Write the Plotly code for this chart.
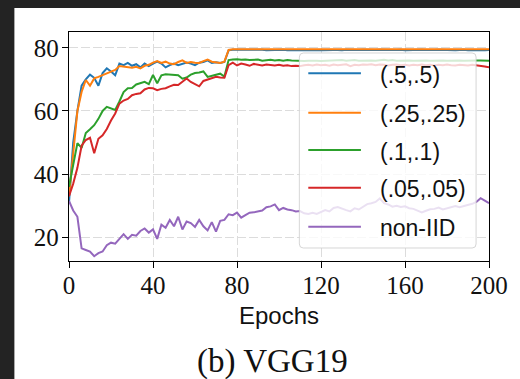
import plotly.graph_objects as go

# Test accuracy (%) of VGG19 recorded every 2 epochs
epochs = list(range(0, 201, 2))

acc_05_05 = [
    31, 50, 60, 68, 70, 71.5, 70.5, 68, 72, 73.5,
    72.5, 71.3, 75, 74.5, 75.2, 74.3, 74.8, 73.8, 75, 74.2,
    75, 75.6, 75, 73.8, 74.5, 75, 74.5, 75, 75.3, 75,
    74.5, 75.3, 75.5, 76, 75.2, 75.4, 75.2, 75.5, 79.2, 79.4,
    79.4, 79.4, 79.3, 79.5, 79.4, 79.3, 79.4, 79.2, 79.3, 79.4,
    79.3, 79.4, 79.2, 79.3, 79.4, 79.3, 79.2, 79.3, 79.4, 79.3,
    79.2, 79.3, 79.4, 79.3, 79.3, 79.2, 79.4, 79.3, 79.2, 79.3,
    79.4, 79.3, 79.2, 79.3, 79.4, 79.3, 79.2, 79.3, 79.3, 79.4,
    79.2, 79.3, 79.2, 79.3, 79.4, 79.3, 79.2, 79.3, 79.4, 79.3,
    79.2, 79.3, 79.2, 79.3, 79.4, 79.2, 79.3, 79.2, 79.3, 79.2,
    79.3,
]

acc_025_025 = [
    33, 46, 60, 66, 69.8, 68, 70.3, 70.8, 71.3, 71.8,
    72.5, 73, 74.2, 74, 73.8, 73.7, 74, 73.5, 74.3, 74.6,
    75.3, 75.8, 75.2, 75.6, 75, 74.8, 75.5, 76, 75.2, 75.5,
    75.3, 75.2, 75.8, 76.3, 75.6, 75.4, 75.2, 75.6, 79.3, 79.5,
    79.5, 79.6, 79.6, 79.5, 79.6, 79.7, 79.6, 79.5, 79.6, 79.6,
    79.5, 79.6, 79.6, 79.5, 79.6, 79.6, 79.5, 79.6, 79.5, 79.6,
    79.6, 79.5, 79.6, 79.6, 79.5, 79.6, 79.6, 79.5, 79.6, 79.6,
    79.5, 79.6, 79.6, 79.5, 79.6, 79.5, 79.6, 79.6, 79.5, 79.6,
    79.6, 79.5, 79.6, 79.6, 79.5, 79.6, 79.5, 79.6, 79.6, 79.5,
    79.6, 79.6, 79.5, 79.6, 79.5, 79.6, 79.6, 79.5, 79.6, 79.5,
    79.5,
]

acc_01_01 = [
    36, 43, 49.8, 48.3, 53, 54.2, 55.5, 57.5, 60, 61.3,
    60.8, 60.3, 63, 66, 67.2, 67.3, 68.4, 68.8, 69.2, 68.5,
    71.4, 68.8, 71.3, 71.6, 71.5, 71.6, 71.3, 70.2, 70.6, 71.5,
    72, 72.2, 72.5, 70.8, 71.2, 71.5, 71.8, 70.9, 76.1, 76.3,
    76.4, 76.2, 76.3, 76.1, 76.2, 76.3, 75.9, 76.1, 76.2, 76,
    76.1, 75.9, 76.1, 76, 75.9, 76, 75.8, 75.9, 76, 75.9,
    75.8, 75.9, 76, 75.9, 76, 76.1, 75.9, 76, 76.1, 75.9,
    76, 76.1, 76, 75.9, 76, 76.2, 76, 76.1, 75.9, 76,
    76.1, 76, 75.9, 76, 76.1, 76, 75.9, 76, 76.1, 76,
    75.9, 76, 76.1, 76, 75.9, 76, 76.1, 76, 76, 76,
    75.9,
]

acc_005_005 = [
    33, 37, 42, 49, 50.8, 51.5, 46.6, 51.2, 52.3, 54.3,
    57, 59.2, 62.3, 63.3, 63.8, 65, 65.4, 65.6, 66.8, 67.3,
    67.2, 66.6, 67, 67.2, 67.8, 68.3, 68.2, 69.2, 70.3, 69.2,
    68.5, 67.8, 69.5, 70, 70.4, 70.8, 70.6, 70.5, 74.5, 75.3,
    74.4, 75, 74.7, 74.3, 74.9, 74.6, 74.4, 74.7, 74.5, 74.4,
    74.6, 74.3, 74.5, 74.2, 74.3, 74.2, 74.5, 74.6, 74.4, 74.7,
    74.5, 74.6, 74.3, 74.7, 74.5, 74.6, 74.8, 74.2, 74.6, 74.5,
    74.7, 74.6, 74.8, 74.5, 74.7, 74.6, 74.4, 74.6, 74.7, 74.5,
    74.6, 74.4, 74.6, 74.5, 74.7, 74.5, 74.6, 74.4, 74.6, 74.5,
    74.7, 74.5, 74.4, 74.6, 74.5, 74.4, 74.6, 74.5, 74.4, 74.1,
    73.8,
]

acc_non_iid = [
    31.5, 28.5, 26.5, 16.5, 16, 15.5, 14, 15, 15.5, 17.5,
    18.3, 18, 19.5, 21, 19.5, 20.8, 20.5, 22, 22.8, 21.5,
    22.5, 19.5, 24, 23, 25.5, 23.5, 26.5, 22.5, 25, 24.5,
    23.3, 25.5, 23.5, 22.2, 24.8, 21.8, 25.2, 25.5, 27.3, 27,
    27.8, 26.2, 27, 27.8, 27.9, 28.2, 28.5, 29.5, 29.8, 30.4,
    28.6, 29.3, 28.8, 28.6, 28.2, 28.3, 27.6, 27.4, 27.8, 27.4,
    28, 28.6, 28.2, 29.3, 29.6, 29, 28.6, 28.2, 29.2, 28.8,
    29.8, 30.5, 30.8, 31.2, 32.3, 30.8, 30.4, 29.7, 30, 29.6,
    29.8, 29.2, 29, 28.4, 27.9, 28.4, 28.9, 29, 29.4, 28.8,
    29.2, 29.6, 29.9, 29.5, 29.8, 30.2, 30.6, 31.2, 32.4, 31.6,
    30.8,
]

series_names = ["(.5,.5)", "(.25,.25)", "(.1,.1)", "(.05,.05)", "non-IID"]
series_values = [acc_05_05, acc_025_025, acc_01_01, acc_005_005, acc_non_iid]
series_colors = ["#1f77b4", "#ff7f0e", "#2ca02c", "#d62728", "#9467bd"]

x_ticks = [0, 40, 80, 120, 160, 200]
y_ticks = [20, 40, 60, 80]

# Figure geometry (pixels)
W, H = 520, 379
PL, PR, PT, PB = 69, 492, 32, 261
PW, PH = PR - PL, PB - PT


def px_x(px):
    return (px - PL) / PW


def px_y(py):
    return (PB - py) / PH


fig = go.Figure()
for name, vals, col in zip(series_names, series_values, series_colors):
    fig.add_trace(go.Scatter(
        x=epochs, y=vals, mode="lines", name=name,
        line=dict(color=col, width=2), showlegend=False,
    ))

shapes = []
# white page area over the dark surround
shapes.append(dict(
    type="rect", xref="paper", yref="paper", layer="below",
    x0=px_x(14), x1=px_x(W + 10), y0=px_y(H + 10), y1=px_y(8),
    fillcolor="white", line=dict(width=0),
))

# legend frame with rounded corners
lx0, lx1, ly0, ly1 = 301, 479, 53, 248
r = 4
rx, ry = r / PW, r / PH
X0, X1 = px_x(lx0), px_x(lx1)
Y0, Y1 = px_y(ly1), px_y(ly0)
path = (
    f"M{X0 + rx},{Y1} L{X1 - rx},{Y1} Q{X1},{Y1} {X1},{Y1 - ry} "
    f"L{X1},{Y0 + ry} Q{X1},{Y0} {X1 - rx},{Y0} "
    f"L{X0 + rx},{Y0} Q{X0},{Y0} {X0},{Y0 + ry} "
    f"L{X0},{Y1 - ry} Q{X0},{Y1} {X0 + rx},{Y1} Z"
)
shapes.append(dict(
    type="path", xref="paper", yref="paper", layer="above", path=path,
    fillcolor="rgba(255,255,255,0.8)", line=dict(color="rgba(204,204,204,0.8)", width=1),
))

row_y = [73.3, 112.7, 150, 187.7, 226.7]
annotations = []
for name, col, ry_px in zip(series_names, series_colors, row_y):
    shapes.append(dict(
        type="line", xref="paper", yref="paper", layer="above",
        x0=px_x(310), x1=px_x(363), y0=px_y(ry_px), y1=px_y(ry_px),
        line=dict(color=col, width=2),
    ))
    annotations.append(dict(
        x=px_x(380), y=px_y(ry_px + 1.5), xref="paper", yref="paper",
        text=name, showarrow=False, xanchor="left", yanchor="middle",
        font=dict(family="Liberation Sans", size=23, color="#111"),
    ))

# caption below the axes
annotations.append(dict(
    x=px_x(274), y=px_y(361), xref="paper", yref="paper",
    text="(b) VGG19", showarrow=False, xanchor="center", yanchor="middle",
    font=dict(family="Liberation Serif", size=33, color="#111"),
))

axis_common = dict(
    showline=True, linecolor="black", linewidth=1.3, mirror=True,
    ticks="outside", ticklen=6, tickwidth=1.3, tickcolor="black",
    showgrid=True, gridcolor="#dcdcdc", gridwidth=1.2, griddash="9px,3px",
    zeroline=False,
    tickfont=dict(family="Liberation Serif", size=25, color="#111"),
)

fig.update_layout(
    width=W, height=H,
    margin=dict(l=PL, r=W - PR, t=PT, b=H - PB, pad=0),
    paper_bgcolor="#232323", plot_bgcolor="white",
    xaxis=dict(
        range=[0, 200], tickvals=x_ticks, ticklabelstandoff=-4, **axis_common,
        title=dict(text="Epochs", standoff=9,
                   font=dict(family="Liberation Sans", size=24, color="#111")),
    ),
    yaxis=dict(range=[12.5, 85], tickvals=y_ticks, ticklabelstandoff=-2, **axis_common),
    shapes=shapes,
    annotations=annotations,
)

fig.write_html("out.html")
